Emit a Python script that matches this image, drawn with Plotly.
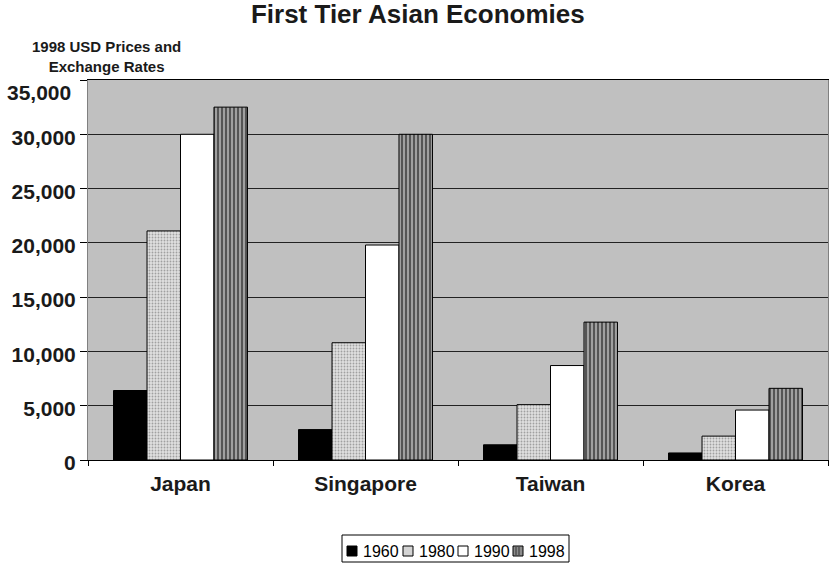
import plotly.graph_objects as go

countries = ["Japan", "Singapore", "Taiwan", "Korea"]
years = ["1960", "1980", "1990", "1998"]

gdp_1960 = [6400, 2800, 1400, 650]
gdp_1980 = [21100, 10800, 5100, 2200]
gdp_1990 = [30000, 19800, 8700, 4600]
gdp_1998 = [32500, 30000, 12700, 6600]

y_ticks = [0, 5000, 10000, 15000, 20000, 25000, 30000, 35000]

series = [gdp_1960, gdp_1980, gdp_1990, gdp_1998]

# fill style per year: solid black, dotted light grey, white, grey vertical stripes
styles = [
    dict(color="#000000"),
    dict(color="#D9D9D9",
         pattern=dict(shape=".", fgcolor="#A0A0A0", bgcolor="#E0E0E0",
                      size=3, solidity=0.3, fillmode="replace")),
    dict(color="#FFFFFF"),
    dict(color="#8C8C8C",
         pattern=dict(shape="|", fgcolor="#555555", bgcolor="#A0A0A0",
                      size=4, solidity=0.5, fillmode="replace")),
]
swatch_fill = ["#000000", "#D4D4D4", "#FFFFFF", "#8C8C8C"]

W, H = 829, 563
M_L, M_R, M_T, M_B = 88, 1, 80, 103
PLOT_W = W - M_L - M_R
PLOT_H = H - M_T - M_B


def px(x):
    """pixel column -> paper x"""
    return (x - M_L) / PLOT_W


def py(y):
    """pixel row -> paper y"""
    return (H - M_B - y) / PLOT_H


fig = go.Figure()
for name, vals, st in zip(years, series, styles):
    fig.add_trace(go.Bar(
        x=countries, y=vals, name=name,
        marker=dict(line=dict(color="#000000", width=1), **st),
        hoverinfo="x+y+name",
        showlegend=False,
    ))

font_family = "Liberation Sans, Arial, sans-serif"
legend_family = "Liberation Sans Narrow, Arial Narrow, Liberation Sans, sans-serif"

# top tick label sits a little lower than its gridline so it clears the axis title
tick_text = [f"<b>{v:,}</b>" for v in y_ticks[:-1]] + [""]

# boxed legend row under the chart
shapes = [dict(type="rect", xref="paper", yref="paper",
               x0=px(342), x1=px(569), y0=py(562), y1=py(535),
               line=dict(color="#000000", width=1), fillcolor="#FFFFFF", layer="above")]
annotations = []
item_x = [347, 403, 458, 513]
for i, (name, fill) in enumerate(zip(years, swatch_fill)):
    x0 = item_x[i]
    shapes.append(dict(type="rect", xref="paper", yref="paper",
                       x0=px(x0), x1=px(x0 + 10), y0=py(556), y1=py(546),
                       line=dict(color="#000000", width=1), fillcolor=fill, layer="above"))
    if name == "1998":
        for sx in (x0 + 3, x0 + 6):
            shapes.append(dict(type="line", xref="paper", yref="paper",
                               x0=px(sx), x1=px(sx), y0=py(555.5), y1=py(546.5),
                               line=dict(color="#505050", width=1.5), layer="above"))
    annotations.append(dict(
        text=name, xref="paper", yref="paper",
        x=px(x0 + 14), xanchor="left", y=py(551), yanchor="middle",
        showarrow=False,
        font=dict(size=16, family=legend_family, color="#000000"),
    ))

annotations += [
    dict(
        text="<b>1998 USD Prices and<br>Exchange Rates</b>",
        xref="paper", yref="paper",
        x=px(106), xanchor="center",
        y=py(56), yanchor="middle",
        showarrow=False, align="center",
        font=dict(size=15, family=font_family, color="#1A1A1A"),
    ),
    dict(
        text=f"<b>{y_ticks[-1]:,}</b>",
        xref="paper", yref="y",
        x=px(73), xanchor="right",
        y=y_ticks[-1], yanchor="middle", yshift=-12,
        showarrow=False,
        font=dict(size=21, family=font_family, color="#1A1A1A"),
    ),
]

fig.update_layout(
    width=W, height=H,
    margin=dict(l=M_L, r=M_R, t=M_T, b=M_B),
    paper_bgcolor="#FFFFFF",
    plot_bgcolor="#C0C0C0",
    barmode="group",
    bargap=0.276,
    bargroupgap=0,
    showlegend=False,
    font=dict(family=font_family, color="#1A1A1A"),
    title=dict(
        text="<b>First Tier Asian Economies</b>",
        x=0.504, xanchor="center", y=0.975, yanchor="middle",
        font=dict(size=26, family=font_family, color="#1A1A1A"),
    ),
    xaxis=dict(
        type="category",
        tickson="boundaries",
        ticks="outside", ticklen=5, tickcolor="#000000",
        showline=True, linecolor="#000000", linewidth=1, mirror=True,
        tickfont=dict(size=21, family=font_family, color="#1A1A1A"),
        tickprefix="<b>", ticksuffix="</b>",
        ticklabelstandoff=5,
        showgrid=False,
    ),
    yaxis=dict(
        range=[0, 35000],
        tickmode="array", tickvals=y_ticks, ticktext=tick_text,
        ticks="outside", ticklen=7, tickcolor="#000000",
        showline=True, linecolor="#808080", linewidth=1, mirror=True,
        showgrid=True, gridcolor="#222222", gridwidth=1,
        zeroline=False,
        ticklabelshift=3,
        tickfont=dict(size=21, family=font_family, color="#1A1A1A"),
    ),
    shapes=shapes,
    annotations=annotations,
)

fig.write_html("out.html")
